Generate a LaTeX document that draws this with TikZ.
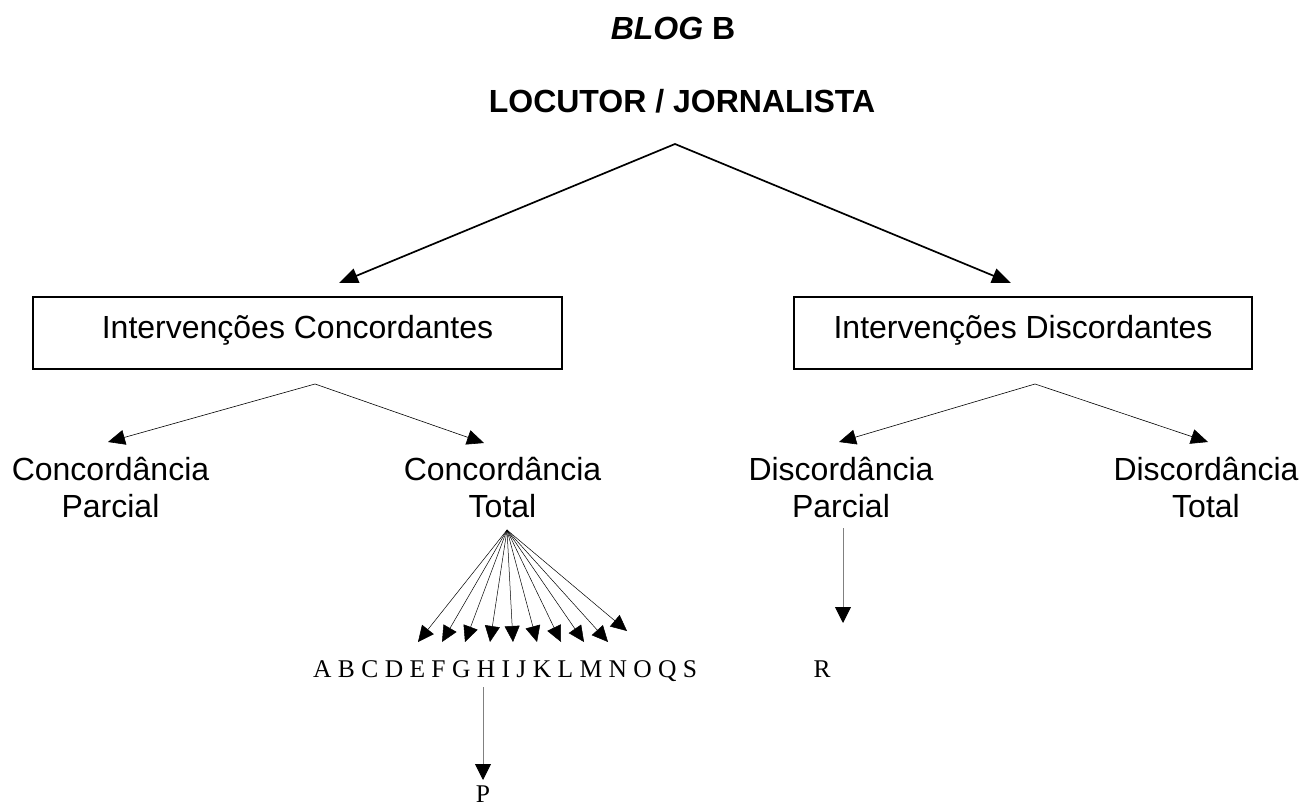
\documentclass[tikz,border=0pt]{standalone}
\usepackage{fontspec}
\setmainfont{Liberation Sans}
\newfontfamily\serifa{Liberation Serif}
\usetikzlibrary{arrows.meta}
\tikzset{
  rotulo/.style={font=\fontsize{32}{37}\selectfont,align=center,inner sep=0pt},
  titulo/.style={font=\bfseries\fontsize{32}{37}\selectfont,inner sep=0pt},
  caixa/.style={draw,line width=2.2pt,inner sep=0pt,minimum height=72pt,
    text height=23pt,text depth=13pt,font=\fontsize{32}{37}\selectfont},
  letra/.style={font=\serifa\fontsize{25.5}{30}\selectfont,inner sep=0pt},
  dupla/.style={line width=1.7pt,
    {Triangle[length=19pt,width=15pt]}-{Triangle[length=19pt,width=15pt]}},
  duplafina/.style={line width=0.6pt,
    {Triangle[length=17pt,width=15pt]}-{Triangle[length=17pt,width=15pt]}},
  setafina/.style={line width=0.5pt,-{Triangle[length=16pt,width=15pt]}},
  setacinza/.style={draw=gray,line width=0.9pt,-{Triangle[length=16pt,width=16pt,color=black]}},
}

\begin{document}
\begin{tikzpicture}[x=1pt,y=-1pt]
\useasboundingbox (0,0) rectangle (1299,805);
% titulos
\node[titulo,anchor=base] (blog) at (673,40) {\textit{BLOG} B};
\node[titulo,anchor=base] (locutor) at (682,113) {LOCUTOR / JORNALISTA};

% caixas
\node[caixa,minimum width=529pt] (concord) at (297.5,333) {Intervenções Concordantes};
\node[caixa,minimum width=458pt] (discord) at (1023,333) {Intervenções Discordantes};

\coordinate (topo) at (675,144);
\coordinate (concord-in) at (339,283);
\coordinate (discord-in) at (1011,283);
\draw[dupla] (concord-in) -- (topo) -- (discord-in);

% segundo nivel
\node[rotulo,anchor=south] (cparcial) at (110.5,518) {Concordância\\Parcial};
\node[rotulo,anchor=south] (ctotal) at (502.5,518) {Concordância\\Total};
\node[rotulo,anchor=south] (dparcial) at (841,518) {Discordância\\Parcial};
\node[rotulo,anchor=south] (dtotal) at (1206,518) {Discordância\\Total};

\coordinate (concord-out) at (315,384);
\coordinate (discord-out) at (1035,384);
\coordinate (cparcial-in) at (108,442);
\coordinate (ctotal-in) at (484,443);
\coordinate (dparcial-in) at (839,442);
\coordinate (dtotal-in) at (1208,442);
\draw[duplafina] (cparcial-in) -- (concord-out) -- (ctotal-in);
\draw[duplafina] (dparcial-in) -- (discord-out) -- (dtotal-in);

% leque
\coordinate (leque) at (507,530);
\foreach \x [count=\i] in {418,442,465,490,513,537,561,584,608} {
  \coordinate (f\i) at (\x,642);
  \draw[setafina] (leque) -- (f\i);
}
\coordinate (f10) at (627,631);
\draw[setafina] (leque) -- (f10);

\node[letra,anchor=base west] (letras) at (313,677) {A B C D E F G H I J K L M N O Q S};
\node[letra,anchor=base] (p) at (483,802) {P};
\node[letra,anchor=base] (r) at (822,677) {R};

\coordinate (h-out) at (483,687);
\coordinate (p-in) at (483,780);
\draw[setacinza] (h-out) -- (p-in);
\coordinate (dparcial-out) at (843,528);
\coordinate (r-in) at (843,623);
\draw[setacinza] (dparcial-out) -- (r-in);
\end{tikzpicture}
\end{document}
